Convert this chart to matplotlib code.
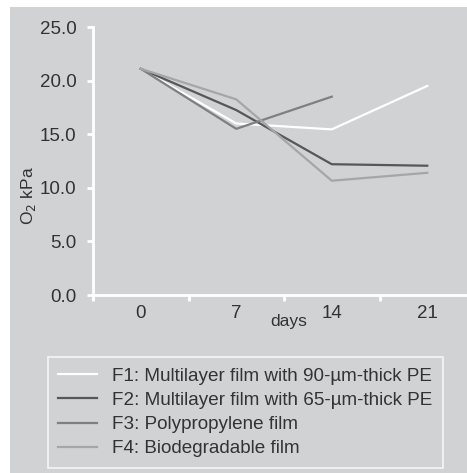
import matplotlib.pyplot as plt
from matplotlib.patches import Rectangle

plt.rcParams['font.family'] = ['Liberation Sans', 'DejaVu Sans']

days = ['0', '7', '14', '21']
f1 = [21.1, 16.0, 15.45, 19.5]
f2 = [21.1, 17.25, 12.2, 12.06]
f3 = [21.1, 15.5, 18.5]
f4 = [21.1, 18.25, 10.66, 11.4]
names = ['F1: Multilayer film with 90-\u00b5m-thick PE',
         'F2: Multilayer film with 65-\u00b5m-thick PE',
         'F3: Polypropylene film',
         'F4: Biodegradable film']
colors = ['#ffffff', '#575757', '#808080', '#a6a6a6']

W, H = 467, 473
bg = '#d1d2d4'
txt = '#333333'
fig = plt.figure(figsize=(W / 100, H / 100), dpi=100)
fig.patches.append(Rectangle((10 / W, 0), 1, 1 - 7 / H, transform=fig.transFigure,
                             facecolor=bg, edgecolor='none', zorder=-10))

ax = fig.add_axes([93 / W, 1 - 295 / H, (475 - 93) / W, (295 - 27) / H])
ax.set_zorder(2)
ax.set_facecolor('none')
for s, c in zip([f1, f2, f3, f4], colors):
    ax.plot(range(len(s)), s, color=c, lw=1.6)

ax.set_xlim(-0.5, 3.5)
ax.set_ylim(0, 25)
ax.set_yticks([0, 5, 10, 15, 20, 25])
ax.set_yticklabels(['%.1f' % v for v in [0, 5, 10, 15, 20, 25]])
ax.set_xticks(range(4))
ax.set_xticklabels(days)
ax.set_xticks([-0.5, 0.5, 1.5, 2.5], minor=True)
ax.tick_params(axis='x', which='major', length=0, pad=7, labelsize=13.5, labelcolor=txt)
ax.tick_params(axis='x', which='minor', length=4, width=2, color='white')
ax.tick_params(axis='y', length=4, width=2, color='white', pad=8, labelsize=13.5,
               labelcolor=txt)
for side in ['top', 'right']:
    ax.spines[side].set_visible(False)
for side in ['left', 'bottom']:
    ax.spines[side].set_color('white')
    ax.spines[side].set_linewidth(2)

fig.text(28 / W, 1 - 196 / H, 'O$_2$ kPa', rotation=90, ha='center', va='center',
         fontsize=12.5, color=txt)
fig.text(289 / W, 1 - 321 / H, 'days', ha='center', va='center', fontsize=12.5, color=txt)

leg = fig.legend(names, loc='upper left', bbox_to_anchor=(48 / W, 1 - 357 / H),
                 frameon=True, fancybox=False, fontsize=13.55, handlelength=2.05,
                 handletextpad=0.8, labelspacing=0.38, borderpad=0.55, borderaxespad=0)
leg.get_frame().set_facecolor('none')
leg.get_frame().set_edgecolor('white')
leg.get_frame().set_linewidth(1.2)
for t in leg.get_texts():
    t.set_color(txt)

fig.savefig('out.png', dpi=100)
